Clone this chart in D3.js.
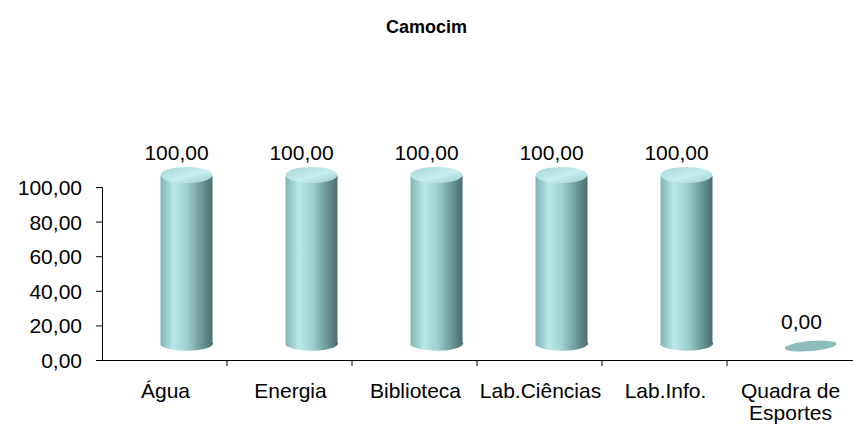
<!DOCTYPE html>
<html>
<head>
<meta charset="utf-8">
<script src="https://cdn.jsdelivr.net/npm/d3@7"></script>
<style>
  body { margin: 0; background: #fff; }
  text { font-family: "Liberation Sans", Arial, sans-serif; fill: #000; }
</style>
</head>
<body>
<div id="chart"></div>
<script>
// Chart data
const title = "Camocim";
const categories = ["Água", "Energia", "Biblioteca", "Lab.Ciências", "Lab.Info.", "Quadra de\nEsportes"];
const values = [100, 100, 100, 100, 100, 0];
const yTicks = [0, 20, 40, 60, 80, 100];

const width = 853;
const height = 425;
const fmt = v => v.toFixed(2).replace(".", ",");

const svg = d3.select("#chart")
  .append("svg")
  .attr("width", width)
  .attr("height", height);

// gradients for the cylinders
const defs = svg.append("defs");
const body = defs.append("linearGradient").attr("id", "body").attr("x1", 0).attr("x2", 1).attr("y1", 0).attr("y2", 0);
[[0, "#80b4b4"], [0.25, "#b8e8e8"], [0.5, "#a0d2d2"], [0.82, "#65908f"], [1, "#4a6b6b"]]
  .forEach(s => body.append("stop").attr("offset", s[0]).attr("stop-color", s[1]));
const cap = defs.append("linearGradient").attr("id", "cap").attr("x1", 0).attr("x2", 1).attr("y1", 0).attr("y2", 1);
[[0, "#a4d6d6"], [0.55, "#c6eeee"], [1, "#9ccccc"]]
  .forEach(s => cap.append("stop").attr("offset", s[0]).attr("stop-color", s[1]));

// scales
const xScale = d3.scaleBand().domain(categories).range([102, 852]).padding(0);
const yScale = d3.scaleLinear().domain([0, 100]).range([360, 187]);
// cylinder centre line (3D depth shifts it up and right)
const cylY = d3.scaleLinear().domain([0, 100]).range([345, 176]);
const depthX = 22;
const rx = 26;

// title
svg.append("text")
  .attr("x", width / 2)
  .attr("y", 33)
  .attr("text-anchor", "middle")
  .style("font-size", "18px")
  .style("font-weight", "bold")
  .text(title);

// y axis
const yAxis = d3.axisLeft(yScale).tickValues(yTicks).tickFormat(fmt).tickSizeOuter(0).tickSize(6).tickPadding(14);
const gy = svg.append("g").attr("transform", "translate(102,0)").call(yAxis);
gy.selectAll("text").style("font-size", "21px").attr("dy", "0.36em");
gy.select(".domain").attr("stroke", "#000");

// x axis
const xAxis = d3.axisBottom(xScale).tickSizeOuter(0).tickSize(6).tickFormat("");
const gx = svg.append("g").attr("transform", "translate(0,360)").call(xAxis);
// ticks on category boundaries
gx.selectAll(".tick line").attr("transform", `translate(${xScale.bandwidth() / 2},0)`);
gx.selectAll(".tick").filter((d, i) => i === categories.length - 1).select("line").remove();
gx.select(".domain").attr("d", "M102,0.5H853");

// category labels
const labels = svg.append("g").selectAll("text")
  .data(categories)
  .enter()
  .append("text")
  .attr("text-anchor", "middle")
  .attr("x", d => xScale(d) + xScale.bandwidth() / 2 + 1)
  .attr("y", 398)
  .style("font-size", "21px");
labels.each(function(d) {
  d3.select(this).selectAll("tspan")
    .data(d.split("\n"))
    .enter()
    .append("tspan")
    .attr("x", d3.select(this).attr("x"))
    .attr("dy", (t, i) => i === 0 ? 0 : 22)
    .text(t => t);
});

// cylinders
const bars = svg.append("g").selectAll("g")
  .data(categories.map((c, i) => ({ c, v: values[i] })))
  .enter()
  .append("g");

bars.each(function(d) {
  const g = d3.select(this);
  const cx = xScale(d.c) + xScale.bandwidth() / 2 + depthX;
  const yb = cylY(0);
  const yt = cylY(d.v);
  if (d.v > 0) {
    g.append("path")
      .attr("d", `M${cx - rx},${yt} L${cx - rx},${yb} A${rx},7 0 0 0 ${cx + rx},${yb - 3} L${cx + rx},${yt} Z`)
      .attr("fill", "url(#body)");
    g.append("ellipse")
      .attr("cx", cx).attr("cy", yt - 1).attr("rx", rx).attr("ry", 8)
      .attr("fill", "url(#cap)");
  } else {
    g.append("ellipse")
      .attr("cx", cx - 1).attr("cy", yb + 1).attr("rx", rx).attr("ry", 5)
      .attr("transform", `rotate(-5,${cx},${yb})`)
      .attr("fill", "#8dbcbc");
  }
  g.append("text")
    .attr("x", cx - 10)
    .attr("y", yt - 16)
    .attr("text-anchor", "middle")
    .style("font-size", "21px")
    .text(fmt(d.v));
});
</script>
</body>
</html>
